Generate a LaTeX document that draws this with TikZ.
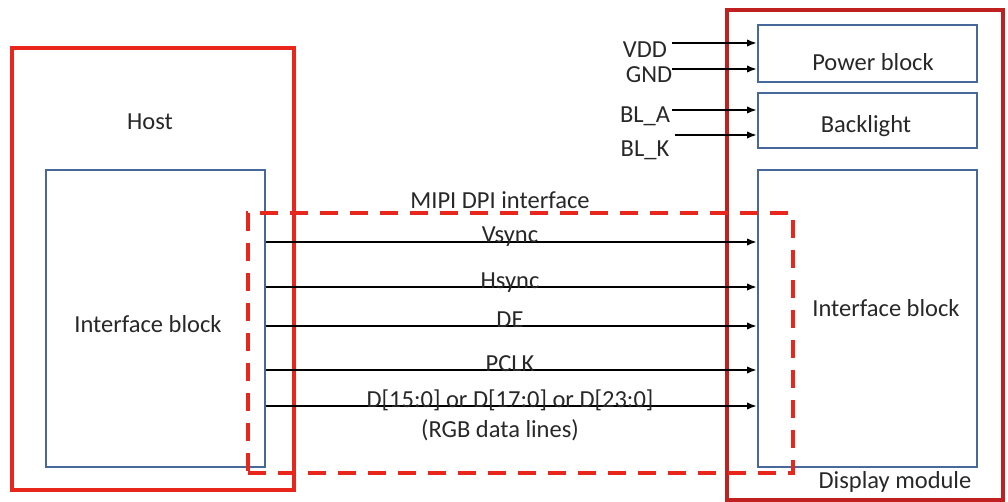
\documentclass[tikz,border=0pt]{standalone}
\usepackage{fontspec}
\setmainfont{Carlito}
\usetikzlibrary{arrows.meta,positioning,calc}
\definecolor{hostRed}{RGB}{232,38,28}
\definecolor{modRed}{RGB}{192,32,32}
\definecolor{blkBlue}{RGB}{72,104,156}
\definecolor{txtGray}{RGB}{40,40,40}
\tikzset{
	outerbox/.style={
		draw=hostRed,
		line width=4pt,
		inner sep=0pt
	},
	blkbox/.style={
		draw=blkBlue,
		line width=2pt,
		inner sep=0pt
	},
	lbl/.style={text=txtGray, inner sep=1pt},
	sigarr/.style={-{Latex[length=10pt,width=7.5pt]}, line width=2pt, black}
}
\begin{document}
\begin{tikzpicture}[x=1pt, y=-1pt, font=\fontsize{24.5}{28}\selectfont]
		\useasboundingbox (0,0) rectangle (1008,502);
		% host side
		\node[outerbox, minimum width=282pt, minimum height=442pt] (host) at (153,269) {};
		\node[blkbox, minimum width=219pt, minimum height=297pt] (hostif) at (155.5,318.5) {};
		\node[lbl] (hostlbl) at (150,122) {Host};
		\node[lbl] (hostiflbl) at (148,324) {Interface block};
		% display module side
		\node[outerbox, draw=modRed, minimum width=276pt, minimum height=490pt] (disp) at (865,255) {};
		\node[blkbox, minimum width=219pt, minimum height=57pt] (power) at (867.5,53.5) {};
		\node[blkbox, minimum width=219pt, minimum height=55pt] (backl) at (867.5,120.5) {};
		\node[blkbox, minimum width=219pt, minimum height=297pt] (dispif) at (867.5,318.5) {};
		\node[lbl] (powerlbl) at (873,62) {Power block};
		\node[lbl] (backllbl) at (866,126) {Backlight};
		\node[lbl] (dispiflbl) at (886,308) {Interface block};
		\node[lbl] (displbl) at (895,482) {Display module};
		% DPI interface
		\node[outerbox, dashed, dash pattern=on 18pt off 12pt, minimum width=545pt, minimum height=260pt] (dpi) at (520.5,343) {};
		\node[lbl] (dpilbl) at (500,200) {MIPI DPI interface};
		% supply inputs
		\node[lbl] (vdd) at (645,50) {VDD};
		\node[lbl] (gnd) at (649,75) {GND};
		\node[lbl] (bla) at (645,116) {BL\_A};
		\node[lbl] (blk) at (645,150) {BL\_K};
		\coordinate (vddin) at (672,43);
		\coordinate (gndin) at (672,69);
		\coordinate (blain) at (672,110);
		\coordinate (blkin) at (675,135);
		\draw[sigarr] (vddin) -- (vddin -| power.west);
		\draw[sigarr] (gndin) -- (gndin -| power.west);
		\draw[sigarr] (blain) -- (blain -| backl.west);
		\draw[sigarr] (blkin) -- (blkin -| backl.west);
		% video signals
		\foreach \y/\sig/\nm in {242/Vsync/vs, 287/Hsync/hs, 326/DE/de, 370/PCLK/pclk, 406/{D[15:0] or D[17:0] or D[23:0]}/dat}{
			\coordinate (\nm) at (400,\y);
			\draw[sigarr] (\nm -| hostif.east) -- (\nm -| dispif.west);
			\node[lbl, anchor=base] (\nm lbl) at (510,\y+1) {\sig};
		}
		\node[lbl] (rgblbl) at (500,430) {(RGB data lines)};
	\end{tikzpicture}
\end{document}
